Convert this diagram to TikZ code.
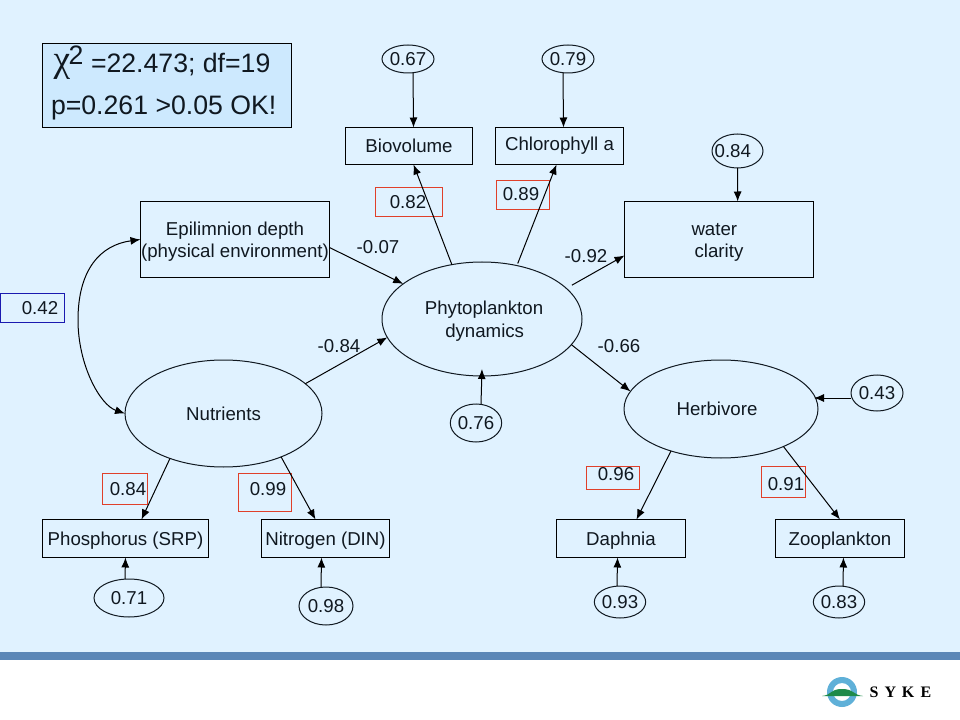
\documentclass[tikz,border=0pt]{standalone}
\usepackage{fontspec}
\setmainfont{Liberation Sans}
\newfontfamily\serifgreek{Liberation Serif}
\usetikzlibrary{arrows.meta,shapes.geometric}
\definecolor{bgblue}{HTML}{E0F2FF}
\definecolor{statfill}{HTML}{CDE9FE}
\definecolor{bandblue}{HTML}{5B87B7}
\definecolor{redline}{HTML}{E0402A}
\definecolor{blueline}{HTML}{1A1AB0}
\definecolor{inkline}{HTML}{101820}
\definecolor{ringblue}{HTML}{5FB0D8}
\definecolor{hillgreen}{HTML}{1E8A4A}
\newcommand\lowerline{\rule{0pt}{13.5pt}}
\tikzset{
  wh/.style 2 args={minimum width=#1*0.75pt,minimum height=#2*0.75pt},
  basenode/.style={inner sep=0pt,outer sep=0pt,text=inkline,align=center,
    font=\fontsize{14}{17}\selectfont},
  lbl/.style={basenode},
  varbox/.style={basenode,draw=black,line width=.75pt,rectangle},
  oval/.style={basenode,draw=inkline,line width=.75pt,ellipse},
  redbox/.style={basenode,draw=redline,line width=.75pt,rectangle},
  bluebox/.style={basenode,draw=blueline,line width=.75pt,rectangle},
  arr/.style={draw=black,line width=.75pt,-{Latex[length=7.5pt,width=6pt]}},
  dbl/.style={draw=black,line width=.75pt,{Latex[length=7.5pt,width=6pt]}-{Latex[length=7.5pt,width=6pt]}},
  logotext/.style={basenode,font=\serifgreek\bfseries\fontsize{12}{14}\selectfont,text=black},
}
\begin{document}
\begin{tikzpicture}[x=.75pt,y=-.75pt]
\useasboundingbox (0,0) rectangle (960,720);
\fill[white] (0,0) rectangle (960,720);
\fill[bgblue] (0,0) rectangle (960,652);
\fill[bandblue] (0,652) rectangle (960,660);

% statistics box
\node[varbox,fill=statfill,wh={249}{84}] (stat) at (167,85.5) {};
\node[lbl,font=\serifgreek\fontsize{28}{28}\selectfont] (chi) at (62,67) {χ};
\node[lbl,font=\fontsize{20}{24}\selectfont] (sq) at (76,55) {2};
\node[lbl,font=\fontsize{20}{24}\selectfont,anchor=west] (st1) at (91,65) {=22.473; df=19};
\node[lbl,font=\fontsize{20}{24}\selectfont,anchor=west] (st2) at (51,108) {p=0.261 >0.05 OK!};

% observed variables
\node[varbox,wh={127}{37}] (bio) at (409,146) {Biovolume};
\node[varbox,wh={128}{37}] (chl) at (559.5,146) {Chlorophyll a};
\node[varbox,wh={189}{76}] (water) at (719,239.5) {\lowerline\hspace{-7pt}water\\ clarity};
\node[varbox,wh={189}{76}] (epi) at (235,239.5) {\lowerline Epilimnion depth\\(physical environment)};
\node[varbox,wh={166}{38}] (phos) at (125.5,538.5) {\lowerline Phosphorus (SRP)};
\node[varbox,wh={128}{38}] (nit) at (325.5,538.5) {\lowerline Nitrogen (DIN)};
\node[varbox,wh={129}{38}] (daph) at (621,538.5) {\lowerline Daphnia};
\node[varbox,wh={129}{38}] (zoo) at (840,538.5) {\lowerline Zooplankton};

% latent variables
\node[oval,wh={200}{114}] (phyto) at (482,319) {\lowerline\hspace{3pt}Phytoplankton\\\hspace{4pt}dynamics};
\node[oval,wh={197}{107}] (nutr) at (223.5,413.5) {Nutrients};
\node[oval,wh={194}{98}] (herb) at (721,409) {\hspace{-6pt}Herbivore};

% residual ovals
\node[oval,wh={52}{28}] (e67) at (408,59) {0.67};
\node[oval,wh={52}{28}] (e79) at (568,59) {0.79};
\node[oval,wh={51}{34}] (e84) at (737.5,151) {\hspace{-7pt}0.84};
\node[oval,wh={50}{38}] (e76) at (476,423) {0.76};
\node[oval,wh={52}{36}] (e43) at (877,393) {0.43};
\node[oval,wh={70}{38}] (e71) at (129,598) {0.71};
\node[oval,wh={54}{38}] (e98) at (326,606) {0.98};
\node[oval,wh={50}{32}] (e93) at (620,602) {0.93};
\node[oval,wh={50}{32}] (e83) at (839,602) {0.83};

% loading boxes
\node[redbox,wh={67}{29}] (r82) at (409,202) {};
\node[lbl] (t82) at (408,202) {0.82};
\node[redbox,wh={53}{29}] (r89) at (523,195) {};
\node[lbl] (t89) at (521,194) {0.89};
\node[redbox,wh={45}{31}] (r84) at (125,489) {};
\node[lbl] (t84) at (128,489) {0.84};
\node[redbox,wh={53}{38}] (r99) at (265,492.5) {};
\node[lbl] (t99) at (268,489) {0.99};
\node[redbox,wh={53}{23}] (r96) at (613,478) {};
\node[lbl] (t96) at (616,474) {0.96};
\node[redbox,wh={44}{31}] (r91) at (783.5,482) {};
\node[lbl] (t91) at (786,484) {0.91};
\node[bluebox,wh={64}{29}] (b42) at (32.5,308) {};
\node[lbl] (t42) at (40,308) {0.42};

% path coefficients
\node[lbl] (p07) at (378,247) {-0.07};
\node[lbl] (p92) at (586,256) {-0.92};
\node[lbl] (p84) at (339,346) {-0.84};
\node[lbl] (p66) at (619,346) {-0.66};

% connectors
\draw[arr] (phyto.119) -- ([xshift=3.4pt]bio.south);
\draw[arr] ([shift={(.75pt,1.5pt)}]phyto.57) -- ([xshift=-2.25pt]chl.south);
\draw[arr] ([shift={(5.25pt,1.5pt)}]phyto.21) -- ([yshift=-12pt]water.west);
\draw[arr] ([yshift=-6pt]epi.east) -- (phyto.156);
\draw[arr] (nutr.20) -- (phyto.191);
\draw[arr] (phyto.-16) -- (herb.169);
\draw[arr] ([xshift=3.75pt]e76.north) -- ([yshift=5.25pt]phyto.south);
\draw[arr] ([yshift=-3.75pt]e43.west) -- ([shift={(-3pt,8.25pt)}]herb.east);
\draw[arr] ([xshift=3.75pt]e67.south) -- ([xshift=3.4pt]bio.north);
\draw[arr] ([xshift=-3.75pt]e79.south) -- ([xshift=3pt]chl.north);
\draw[arr] (e84.south) -- ([xshift=14pt]water.north);
\draw[arr] (nutr.220) -- ([xshift=12pt]phos.north);
\draw[arr] (nutr.-37) -- ([xshift=-7.5pt]nit.north);
\draw[arr] (herb.220) -- ([xshift=11.6pt]daph.north);
\draw[arr] (herb.-31) -- (zoo.north);
\draw[arr] ([xshift=-3pt]e71.north) -- (phos.south);
\draw[arr] ([xshift=-3.75pt]e98.north) -- ([xshift=-3pt]nit.south);
\draw[arr] ([xshift=-2.25pt]e93.north) -- ([xshift=-2.6pt]daph.south);
\draw[arr] ([xshift=3pt]e83.north) -- ([xshift=2.6pt]zoo.south);
\draw[dbl] (epi.west) .. controls (100,245) and (78,270) .. (78,320)
   .. controls (78,365) and (100,405) .. (nutr.west);

% logo
\fill[ringblue,even odd rule] (842,692) circle[radius=15] (842,692) circle[radius=9];
\fill[hillgreen] (822,696) .. controls (832,695) and (830,689) .. (842,689)
  .. controls (854,689) and (853,695) .. (863,696) -- cycle;
\node[logotext] (sy) at (874,692) {S};
\node[logotext] (yy) at (890.5,692) {Y};
\node[logotext] (ky) at (908,692) {K};
\node[logotext] (ey) at (926,692) {E};
\end{tikzpicture}
\end{document}
